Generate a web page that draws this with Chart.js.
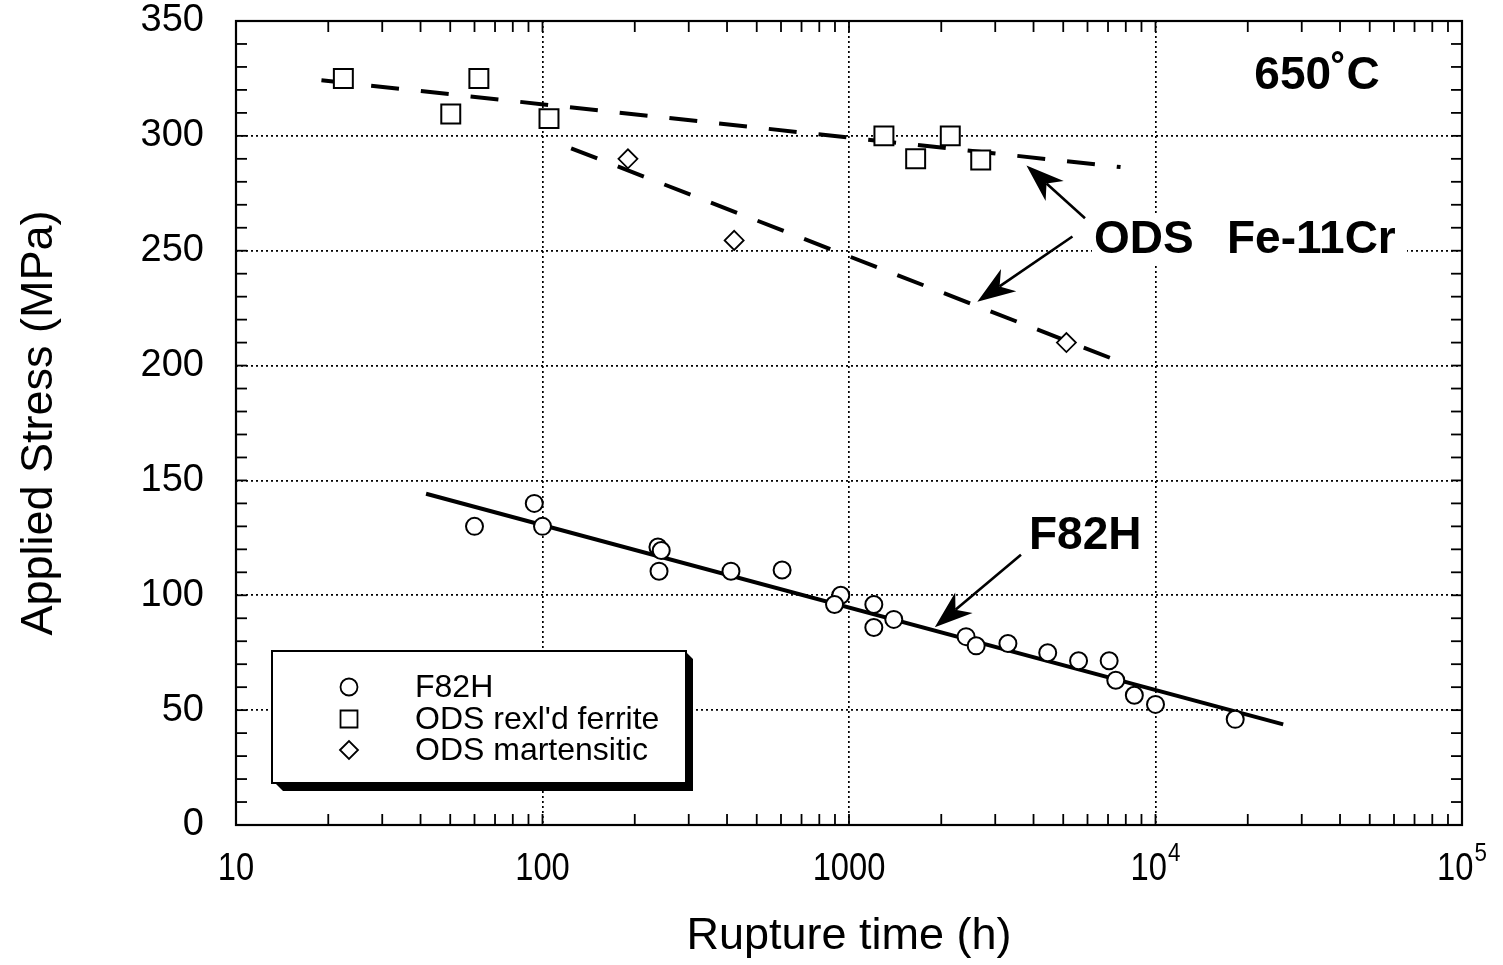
<!DOCTYPE html>
<html>
<head>
<meta charset="utf-8">
<script src="https://cdn.jsdelivr.net/npm/chart.js@4.4.1/dist/chart.umd.min.js"></script>
<style>
  html, body { margin: 0; padding: 0; background: #fff; }
  #wrap { width: 1503px; height: 965px; }
</style>
</head>
<body>
<div id="wrap"><canvas id="c" width="1503" height="965"></canvas></div>
<script>
// ---- creep rupture data at 650 C ----
const f82hTime   = [60, 94, 100, 238, 244, 240, 412, 605, 940, 897, 1205, 1205, 1400, 2410, 2600, 3300, 4450, 5610, 7060, 7420, 8530, 10000, 18200];
const f82hStress = [130, 140, 130, 121, 119.5, 110.5, 110.5, 111, 100, 96, 96, 86, 89.5, 82, 78, 79, 75, 71.5, 71.5, 63, 56.5, 52.5, 46];

const ferriteTime   = [22.4, 50.2, 62, 105, 1300, 1650, 2140, 2690];
const ferriteStress = [325, 309.5, 325, 307.5, 300, 290, 300, 289.5];

const martTime   = [190, 422, 5120];
const martStress = [290, 254.5, 210];

// trend lines (end points)
const f82hFitTime      = [41.7, 26100];
const f82hFitStress    = [144.2, 43.8];
const ferriteFitTime   = [19, 7690];
const ferriteFitStress = [324.2, 286.4];
const martFitTime      = [124, 7130];
const martFitStress    = [294.6, 203.3];

// axis ticks and labels
const timeDecades   = [10, 100, 1000, 10000, 100000];
const timeLabels    = ['10', '100', '1000', '10^4', '10^5'];
const timeGridLines = [100, 1000, 10000];
const stressLabels  = [0, 50, 100, 150, 200, 250, 300, 350];
const stressGridLines = [50, 100, 150, 200, 250, 300];

// callout arrows: tail -> tip, in (time, stress)
const arrowTailTime   = [5888, 5358, 3640];
const arrowTailStress = [264.1, 256.2, 117.6];
const arrowTipTime    = [3793, 2622, 1905];
const arrowTipStress  = [287.1, 227.8, 86.1];

const FONT = '"Liberation Sans", Arial, Helvetica, sans-serif';

function toPoints(xs, ys) { return xs.map((x, i) => ({ x: x, y: ys[i] })); }

// minor tick values: 1..9 x each decade
const timeTickValues = [];
timeDecades.slice(0, -1).forEach(d => { for (let m = 1; m < 10; m++) timeTickValues.push(m * d); });
timeTickValues.push(timeDecades[timeDecades.length - 1]);
const stressTickValues = [];
for (let v = 0; v <= 350; v += 10) stressTickValues.push(v);

function line(ctx, x1, y1, x2, y2) {
  ctx.beginPath(); ctx.moveTo(x1, y1); ctx.lineTo(x2, y2); ctx.stroke();
}

function arrow(ctx, x1, y1, x2, y2) {
  const dx = x2 - x1, dy = y2 - y1, len = Math.hypot(dx, dy);
  const ux = dx / len, uy = dy / len;
  const L = 38, W = 13.5, N = 27;
  const bx = x2 - ux * L, by = y2 - uy * L;
  const nx = x2 - ux * N, ny = y2 - uy * N;
  ctx.lineWidth = 2.6;
  line(ctx, x1, y1, nx, ny);
  ctx.beginPath();
  ctx.moveTo(x2, y2);
  ctx.lineTo(bx - uy * W, by + ux * W);
  ctx.lineTo(nx, ny);
  ctx.lineTo(bx + uy * W, by - ux * W);
  ctx.closePath();
  ctx.fill();
}

function marker(ctx, style, r, bw, x, y) {
  ctx.fillStyle = '#fff';
  ctx.strokeStyle = '#000';
  ctx.lineWidth = bw;
  if (Chart.helpers && Chart.helpers.drawPoint) {
    Chart.helpers.drawPoint(ctx, { pointStyle: style, radius: r, borderWidth: bw, rotation: 0 }, x, y);
    return;
  }
  ctx.beginPath();
  if (style === 'circle') ctx.arc(x, y, r, 0, Math.PI * 2);
  else if (style === 'rect') { const s = r * Math.SQRT1_2; ctx.rect(x - s, y - s, 2 * s, 2 * s); }
  else { ctx.moveTo(x - r, y); ctx.lineTo(x, y - r); ctx.lineTo(x + r, y); ctx.lineTo(x, y + r); ctx.closePath(); }
  ctx.fill(); ctx.stroke();
}

const decorations = {
  id: 'decorations',
  beforeDatasetsDraw(chart) {
    const ctx = chart.ctx;
    ctx.save();
    // label block over the grid
    ctx.fillStyle = '#fff';
    ctx.fillRect(1092, 216, 315, 50);
    ctx.fillStyle = '#000';
    ctx.textBaseline = 'alphabetic';
    ctx.textAlign = 'left';
    ctx.font = 'bold 46px ' + FONT;
    ctx.fillText('ODS', 1094, 253);
    ctx.fillText('Fe-11Cr', 1227, 253);
    ctx.textAlign = 'center';
    ctx.fillText('650\u02DAC', 1317, 89);
    ctx.textAlign = 'left';
    ctx.fillText('F82H', 1029, 549);
    ctx.restore();
  },
  afterDatasetsDraw(chart) {
    const ctx = chart.ctx;
    const xs = chart.scales.x, ys = chart.scales.y, a = chart.chartArea;
    ctx.save();
    ctx.strokeStyle = '#000';
    ctx.fillStyle = '#000';

    // callout arrows
    for (let i = 0; i < arrowTipTime.length; i++) {
      arrow(ctx,
        xs.getPixelForValue(arrowTailTime[i]), ys.getPixelForValue(arrowTailStress[i]),
        xs.getPixelForValue(arrowTipTime[i]), ys.getPixelForValue(arrowTipStress[i]));
    }

    // legend box with drop shadow
    const L = 272, T = 651, R = 686, B = 783, S = 8;
    ctx.fillStyle = '#000';
    ctx.beginPath();
    ctx.moveTo(L + 3, B);
    ctx.lineTo(L + 3 + S, B + S);
    ctx.lineTo(R + S - 1, B + S);
    ctx.lineTo(R + S - 1, T + S);
    ctx.lineTo(R, T + 1);
    ctx.lineTo(R, B);
    ctx.closePath();
    ctx.fill();
    ctx.fillStyle = '#fff';
    ctx.fillRect(L, T, R - L, B - T);
    ctx.lineWidth = 2;
    ctx.strokeRect(L, T, R - L, B - T);

    const rows = [687, 719, 750];
    const styles = [['circle', 8.5, 1.8], ['rect', 12, 1.8], ['rectRot', 9, 1.8]];
    for (let i = 0; i < 3; i++) {
      marker(ctx, styles[i][0], styles[i][1], styles[i][2], 349, rows[i]);
      ctx.fillStyle = '#000';
      ctx.font = '32px ' + FONT;
      ctx.textAlign = 'left';
      ctx.textBaseline = 'middle';
      ctx.fillText(chart.data.datasets[i].label, 415, rows[i] + 1);
    }

    // plot frame
    ctx.strokeStyle = '#000';
    ctx.lineWidth = 2.2;
    ctx.strokeRect(a.left, a.top, a.right - a.left, a.bottom - a.top);

    // inward tick marks
    ctx.lineWidth = 1.8;
    xs.ticks.forEach(t => {
      if (t.value <= xs.min || t.value >= xs.max) return;
      const px = xs.getPixelForValue(t.value);
      line(ctx, px, a.bottom, px, a.bottom - 11);
      line(ctx, px, a.top, px, a.top + 11);
    });
    ys.ticks.forEach(t => {
      if (t.value <= ys.min || t.value >= ys.max) return;
      const py = ys.getPixelForValue(t.value);
      line(ctx, a.left, py, a.left + 11, py);
      line(ctx, a.right, py, a.right - 11, py);
    });

    // time axis labels with powers of ten (slightly condensed face)
    const SX = 0.86;
    ctx.fillStyle = '#000';
    ctx.textBaseline = 'middle';
    ctx.textAlign = 'left';
    timeDecades.forEach((v, i) => {
      const parts = timeLabels[i].split('^');
      const px = xs.getPixelForValue(v);
      ctx.font = '38px ' + FONT;
      const wBase = ctx.measureText(parts[0]).width * SX;
      let wSup = 0;
      if (parts[1]) { ctx.font = '26px ' + FONT; wSup = ctx.measureText(parts[1]).width * SX + 1; }
      const x0 = px - (wBase + wSup) / 2;
      const y0 = a.bottom + 45;
      ctx.save();
      ctx.translate(x0, y0);
      ctx.scale(SX, 1);
      ctx.font = '38px ' + FONT;
      ctx.fillText(parts[0], 0, 0);
      if (parts[1]) { ctx.font = '26px ' + FONT; ctx.fillText(parts[1], (wBase + 1) / SX, -16); }
      ctx.restore();
    });
    ctx.restore();
  }
};

new Chart(document.getElementById('c'), {
  type: 'scatter',
  data: {
    datasets: [
      { label: 'F82H', data: toPoints(f82hTime, f82hStress), pointStyle: 'circle', pointRadius: 8.5,
        pointBorderWidth: 2, pointBackgroundColor: '#fff', pointBorderColor: '#000', order: 0 },
      { label: "ODS rexl'd ferrite", data: toPoints(ferriteTime, ferriteStress), pointStyle: 'rect', pointRadius: 13.4,
        pointBorderWidth: 2, pointBackgroundColor: '#fff', pointBorderColor: '#000', order: 0 },
      { label: 'ODS martensitic', data: toPoints(martTime, martStress), pointStyle: 'rectRot', pointRadius: 9.5,
        pointBorderWidth: 1.8, pointBackgroundColor: '#fff', pointBorderColor: '#000', order: 0 },
      { label: 'F82H trend', type: 'line', data: toPoints(f82hFitTime, f82hFitStress), borderColor: '#000',
        borderWidth: 4, pointRadius: 0, fill: false, order: 1 },
      { label: 'ferrite trend', type: 'line', data: toPoints(ferriteFitTime, ferriteFitStress), borderColor: '#000',
        borderWidth: 4, borderDash: [28, 22], borderCapStyle: 'butt', pointRadius: 0, fill: false, order: 1 },
      { label: 'martensitic trend', type: 'line', data: toPoints(martFitTime, martFitStress), borderColor: '#000',
        borderWidth: 4, borderDash: [28, 22], borderCapStyle: 'butt', pointRadius: 0, fill: false, order: 1 }
    ]
  },
  options: {
    responsive: false,
    animation: false,
    devicePixelRatio: 1,
    layout: { padding: { top: 21, right: 41, left: 0, bottom: 0 } },
    plugins: { legend: { display: false }, tooltip: { enabled: false } },
    scales: {
      x: {
        type: 'logarithmic', min: 10, max: 100000,
        afterBuildTicks: s => { s.ticks = timeTickValues.map(v => ({ value: v })); },
        afterFit: s => { s.height = 140; },
        ticks: { display: false, autoSkip: false },
        grid: {
          drawTicks: false, lineWidth: 1.7,
          color: c => (c.tick && timeGridLines.includes(c.tick.value)) ? '#000' : 'rgba(0,0,0,0)'
        },
        border: { display: false, dash: [2, 3] },
        title: { display: true, text: 'Rupture time (h)', color: '#000',
          font: { family: FONT, size: 45, lineHeight: 1.2 }, padding: { top: 0, bottom: 1 } }
      },
      y: {
        min: 0, max: 350,
        afterBuildTicks: s => { s.ticks = stressTickValues.map(v => ({ value: v })); },
        afterFit: s => { s.width = 236; },
        ticks: { autoSkip: false, padding: 0, color: '#000',
          font: { family: FONT, size: 38, lineHeight: 1 },
          callback: v => stressLabels.includes(v) ? String(v) : '' },
        grid: {
          drawTicks: true, tickLength: 32, tickColor: 'rgba(0,0,0,0)', lineWidth: 1.7,
          color: c => (c.tick && stressGridLines.includes(c.tick.value)) ? '#000' : 'rgba(0,0,0,0)'
        },
        border: { display: false, dash: [2, 3] },
        title: { display: true, text: 'Applied Stress (MPa)', color: '#000',
          font: { family: FONT, size: 45, lineHeight: 1.2 }, padding: { top: 13, bottom: 0 } }
      }
    }
  },
  plugins: [decorations]
});
</script>
</body>
</html>
